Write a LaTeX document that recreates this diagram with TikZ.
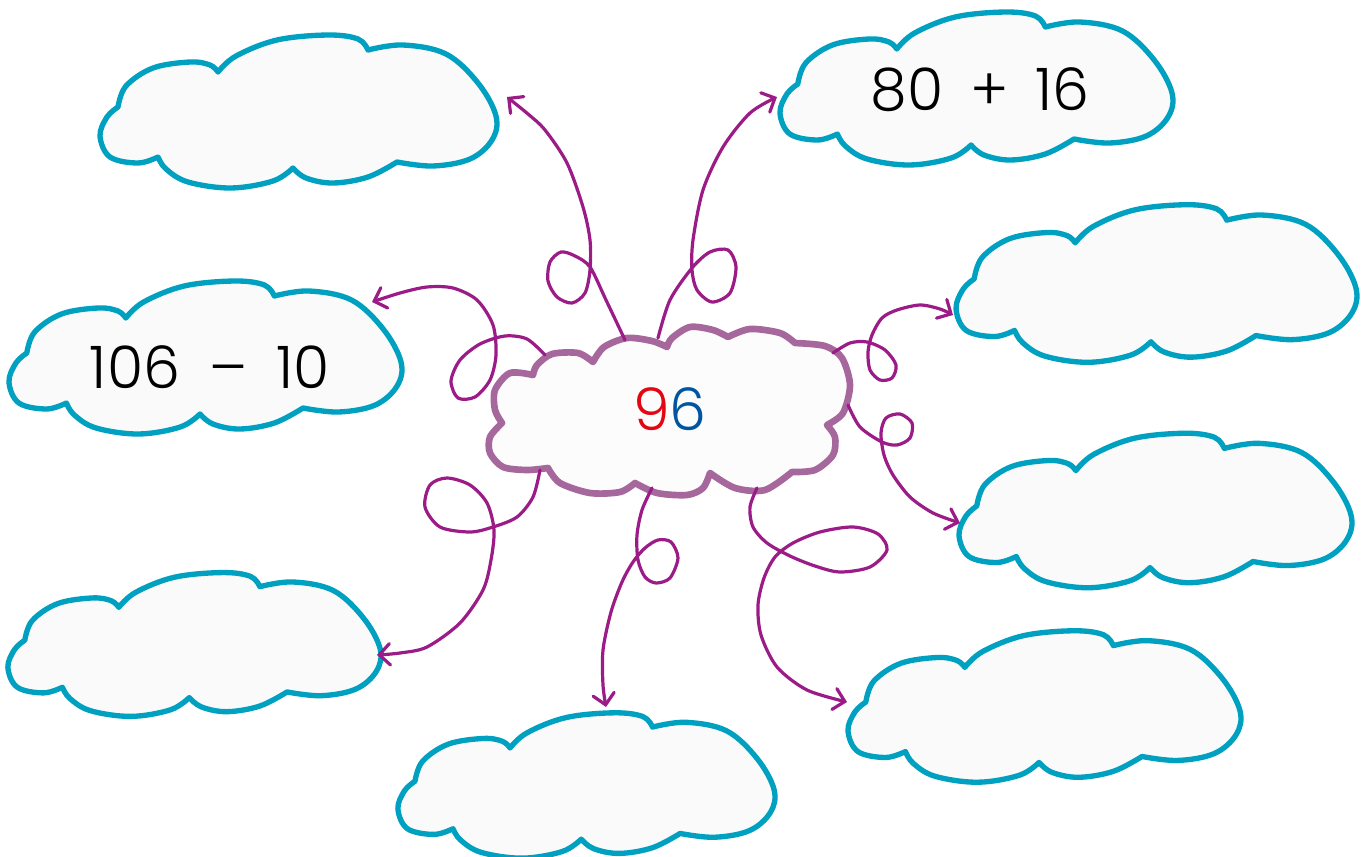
\documentclass[tikz,border=0pt]{standalone}
\usepackage{fontspec}
\setmainfont{Poppins}[UprightFont=* Light]
\usetikzlibrary{arrows.meta}

\definecolor{cloudteal}{RGB}{0,160,192}
\definecolor{midpurple}{RGB}{166,104,156}
\definecolor{looppurple}{RGB}{155,27,135}
\definecolor{digitred}{RGB}{227,6,19}
\definecolor{digitblue}{RGB}{0,85,160}

\tikzset{every picture/.style={line width=0.75pt}}
\tikzset{
  cloudline/.style={draw=cloudteal, line width=4pt, fill=black!2, line join=round},
  midline/.style={draw=midpurple, line width=5pt, fill=black!1, line join=round},
  looparrow/.style={draw=looppurple, line width=2.4pt, line cap=round,
    -{Straight Barb[length=8pt,width=16pt,line cap=round]}},
  sum/.style={font=\fontsize{44}{48}\selectfont, inner sep=0pt},
  pics/cloud/.style={code={
    \draw[cloudline, yscale=-1] plot[smooth,tension=0.6] coordinates {(-180,-4) (-172,-25) (-145,-43) (-108,-49) (-88,-46) (-80,-39)}
      -- plot[smooth,tension=0.6] coordinates {(-80,-39) (-62,-55) (-21,-71) (30,-76) (60,-72) (70,-61)}
      -- plot[smooth,tension=0.6] coordinates {(70,-61) (105,-66) (148,-57) (180,-28) (198,5) (194,29) (172,48) (135,55) (99,51)}
      -- plot[smooth,tension=0.6] coordinates {(99,51) (70,66) (35,72) (8,67) (-5,57)}
      -- plot[smooth,tension=0.6] coordinates {(-5,57) (-25,70) (-67,77) (-110,71) (-132,58) (-140,46)}
      -- plot[smooth,tension=0.6] coordinates {(-140,46) (-160,52) (-188,46) (-198,25) (-191,6) (-180,-4)} -- cycle;
  }}
}

\begin{document}
\begin{tikzpicture}[x=0.75pt,y=0.75pt,yscale=-1,xscale=1]
\useasboundingbox (0,0) rectangle (1365,857);

% outer clouds
\pic at (298,111) {cloud};
\pic[xscale=0.99] at (976,88) {cloud};
\pic[xscale=1.01,yscale=1.03] at (1156,283) {cloud};
\pic[xscale=0.99,yscale=1.01] at (1155,510) {cloud};
\pic[xscale=0.99] at (205,357) {cloud};
\pic[xscale=0.94,yscale=0.94] at (194,644) {cloud};
\pic[xscale=0.95,yscale=0.95] at (586,785) {cloud};
\pic[xscale=0.99,yscale=0.99] at (1044,706) {cloud};

% middle cloud
\draw[midline] plot[smooth] coordinates {(533,375) (510,373) (495,390) (495,410) (502,423)}
  -- plot[smooth] coordinates {(502,423) (490,437) (490,453) (503,467) (527,470) (548,468)}
  -- plot[smooth] coordinates {(548,468) (560,483) (590,493) (620,492) (635,483)}
  -- plot[smooth] coordinates {(635,483) (657,493) (687,495) (703,488) (710,473)}
  -- plot[smooth] coordinates {(710,473) (735,488) (765,490) (792,472)}
  -- plot[smooth] coordinates {(792,472) (815,470) (833,455) (835,437) (827,425)}
  -- plot[smooth] coordinates {(827,425) (843,413) (850,385) (842,358) (825,346) (795,343)}
  -- plot[smooth] coordinates {(795,343) (780,333) (750,329) (728,337)}
  -- plot[smooth] coordinates {(728,337) (713,330) (690,327) (672,338) (667,347)}
  -- plot[smooth] coordinates {(667,347) (652,341) (627,338) (604,347) (593,362)}
  -- plot[smooth] coordinates {(593,362) (578,353) (552,354) (537,365) (533,375)} -- cycle;

\node[sum] (n96) at (670,409) {\textcolor{digitred}{9}\textcolor{digitblue}{6}};
\node[sum] (sumtop) at (980,90) {80\hspace{20pt}+\hspace{20pt}16};
\node[sum] (diffleft) at (210,367) {106\hspace{22pt}–\hspace{22pt}10};

% loop arrows
\coordinate (a1) at (625,340); \coordinate (e1) at (507,97);
\coordinate (a2) at (658,338); \coordinate (e2) at (777,97);
\coordinate (a3) at (545,355); \coordinate (e3) at (372,302);
\coordinate (a4) at (833,353); \coordinate (e4) at (953,315);
\coordinate (a5) at (848,405); \coordinate (e5) at (960,523);
\coordinate (a6) at (540,470); \coordinate (e6) at (377,655);
\coordinate (a7) at (652,488); \coordinate (e7) at (606,707);
\coordinate (a8) at (757,488); \coordinate (e8) at (847,702);

\draw[looparrow] plot[smooth] coordinates {(a1) (606,300) (590,267) (575,256) (561,252) (550,262) (548,281) (557,297) (572,303) (585,293) (590,270) (590,240) (583,207) (567,163) (545,130) (528,114) (e1)};
\draw[looparrow] plot[smooth] coordinates {(a2) (670,300) (692,268) (710,252) (728,250) (736,267) (730,293) (712,302) (697,290) (692,270) (693,240) (703,190) (723,147) (750,113) (e2)};
\draw[looparrow] plot[smooth] coordinates {(a3) (527,339) (505,336) (480,344) (460,360) (451,381) (458,398) (475,397) (490,380) (496,355) (493,325) (477,300) (453,288) (427,287) (400,293) (e3)};
\draw[looparrow] plot[smooth] coordinates {(a4) (850,343) (867,342) (885,350) (896,365) (892,378) (880,380) (870,370) (868,352) (872,335) (882,318) (897,310) (920,305) (940,309) (e4)};
\draw[looparrow] plot[smooth] coordinates {(a5) (860,427) (882,442) (897,445) (910,438) (912,423) (900,414) (886,418) (881,433) (884,455) (893,475) (910,497) (933,513) (e5)};
\draw[looparrow] plot[smooth] coordinates {(a6) (533,497) (517,517) (493,527) (470,532) (440,527) (425,507) (430,485) (447,478) (470,485) (487,503) (494,530) (491,560) (483,590) (460,623) (427,647) (400,653) (e6)};
\draw[looparrow] plot[smooth] coordinates {(a7) (642,510) (637,535) (638,560) (645,577) (656,583) (670,578) (678,558) (671,542) (658,540) (645,548) (633,562) (622,582) (611,612) (603,650) (603,685) (e7)};
\draw[looparrow] plot[smooth] coordinates {(a8) (750,507) (753,527) (767,543) (790,556) (815,566) (840,572) (870,567) (887,550) (878,534) (853,527) (820,532) (793,543) (775,557) (764,578) (758,605) (761,635) (777,667) (807,690) (e8)};

\end{tikzpicture}
\end{document}
